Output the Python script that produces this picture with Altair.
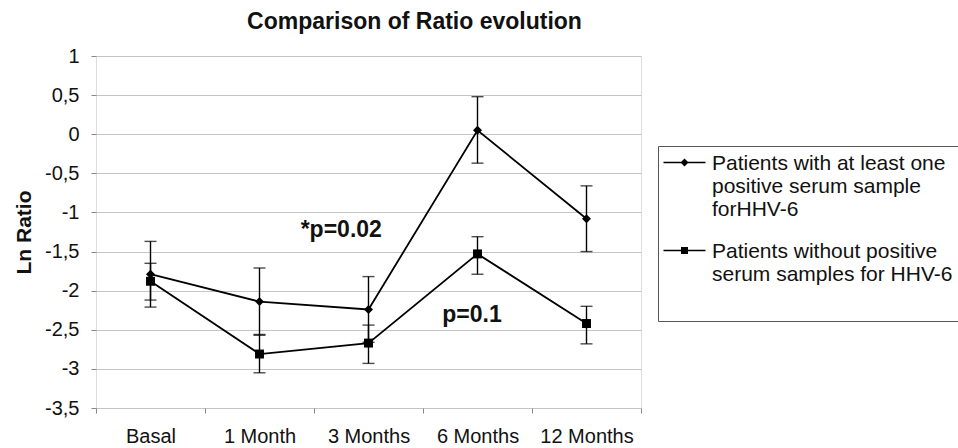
import json
import altair as alt
import pandas as pd

# ---------------- data ----------------
categories = ["Basal", "1 Month", "3 Months", "6 Months", "12 Months"]
series_names = [
    "Patients with at least one|positive serum sample|forHHV-6",
    "Patients without positive|serum samples for HHV-6| ",
]
s1_mean = [-1.79, -2.14, -2.24, 0.05, -1.08]
s1_upper = [-1.37, -1.71, -1.82, 0.48, -0.66]
s1_lower = [-2.21, -2.57, -2.66, -0.37, -1.50]
s2_mean = [-1.88, -2.81, -2.67, -1.53, -2.42]
s2_upper = [-1.65, -2.56, -2.44, -1.31, -2.20]
s2_lower = [-2.12, -3.05, -2.93, -1.79, -2.68]

ann_text = ["*p=0.02", "p=0.1"]
ann_x = [1.75, 2.95]
ann_y = [-1.32, -2.40]

y_ticks = [-3.5, -3, -2.5, -2, -1.5, -1, -0.5, 0, 0.5, 1]

# ---------------- tables ----------------
rows = []
for name, m, u, l in [(series_names[0], s1_mean, s1_upper, s1_lower),
                      (series_names[1], s2_mean, s2_upper, s2_lower)]:
    for i, cat in enumerate(categories):
        rows.append({"series": name, "cat": cat, "idx": i, "mean": m[i],
                     "upper": u[i], "lower": l[i]})
df = pd.DataFrame(rows)
ann = pd.DataFrame({"text": ann_text, "x": ann_x, "y": ann_y})

FONT = "Liberation Sans"
x_values = [i * 0.5 - 0.5 for i in range(2 * len(categories) + 1)]
label_expr = ("datum.value % 1 == 0 ? " + json.dumps(categories)
              + "[datum.value] : ''")

xscale = alt.Scale(domain=[-0.5, len(categories) - 0.5], nice=False, zero=False)
yscale = alt.Scale(domain=[-3.5, 1], nice=False, zero=False)

x_axis = alt.Axis(
    values=x_values, labelExpr=label_expr, grid=False, domain=False,
    tickSize=5, tickColor="#888",
    tickOpacity={"condition": {"test": "datum.value % 1 == 0", "value": 0}, "value": 1},
    labelFontSize=20, labelFont=FONT, labelColor="#111", labelPadding=13,
    labelOverlap=False, labelFlush=False, title=None,
)
y_axis = alt.Axis(
    values=y_ticks, labelExpr="replace(toString(datum.value), '.', ',')",
    grid=True, gridColor="#c4c4c4", gridWidth=1.2, domain=False,
    tickSize=5, tickColor="#888", labelOverlap=False, labelFlush=False,
    labelBound=False,
    labelFontSize=20, labelFont=FONT, labelColor="#111", labelPadding=12,
    title="Ln Ratio", titleFont=FONT, titleFontSize=21, titleFontWeight="bold",
    titleColor="#111", titlePadding=10,
)


def X(field):
    return alt.X(field, scale=xscale, axis=x_axis)


def Y(field):
    return alt.Y(field, scale=yscale, axis=y_axis)


base = alt.Chart(df)

bars = base.mark_rule(color="black", strokeWidth=1.4).encode(
    x=X("idx:Q"), y=Y("lower:Q"), y2="upper:Q", detail="series:N")
cap_hi = base.mark_tick(color="black", thickness=1.4, size=12, orient="horizontal").encode(
    x=X("idx:Q"), y=Y("upper:Q"), detail="series:N")
cap_lo = base.mark_tick(color="black", thickness=1.4, size=12, orient="horizontal").encode(
    x=X("idx:Q"), y=Y("lower:Q"), detail="series:N")
lines = base.mark_line(color="black", strokeWidth=1.8).encode(
    x=X("idx:Q"), y=Y("mean:Q"), detail="series:N")
points = base.mark_point(filled=True, color="black", opacity=1, size=80).encode(
    x=X("idx:Q"), y=Y("mean:Q"),
    shape=alt.Shape("series:N", scale=alt.Scale(domain=series_names, range=["diamond", "square"]),
                    legend=None))

# legend glyphs: unit = 2 px (symbolSize 16); a thin bar plus the marker
dy = -3.5
leg_paths = [
    f"M-9,{dy-0.4}H12V{dy+0.4}H-9Z"
    f"M1.5,{dy-2}L3.5,{dy}L1.5,{dy+2}L-0.5,{dy}Z",
    f"M-9,{dy-0.4}H12V{dy+0.4}H-9Z"
    f"M-0.25,{dy-1.75}H3.25V{dy+1.75}H-0.25Z",
]
legend_layer = base.mark_point(filled=True, color="black", opacity=0, size=16).encode(
    x=X("idx:Q"), y=Y("mean:Q"),
    shape=alt.Shape("series:N", scale=alt.Scale(domain=series_names, range=leg_paths),
                    legend=alt.Legend(
                        title=None, orient="none", legendX=562, legendY=90,
                        direction="vertical",
                        labelFont=FONT, labelFontSize=21, labelColor="#111",
                        labelLimit=500, labelExpr="split(datum.label, '|')",
                        labelBaseline="alphabetic", labelOffset=20,
                        symbolSize=16, symbolStrokeWidth=0,
                        symbolFillColor="black",
                        strokeColor="#555", fillColor="white",
                        padding=13, rowPadding=20,
                    )))

texts = alt.Chart(ann).mark_text(font=FONT, fontSize=23, fontWeight="bold",
                                 color="#111", baseline="alphabetic", align="center").encode(
    x=X("x:Q"), y=Y("y:Q"), text="text:N")

chart = alt.layer(bars, cap_hi, cap_lo, lines, points, legend_layer, texts).resolve_scale(
    shape="independent"
).properties(
    width=545, height=352,
    padding={"left": 96, "top": 56, "right": 317, "bottom": 40},
    autosize=alt.AutoSizeParams(type="none"),
    title=alt.Title("Comparison of Ratio evolution", font=FONT, fontSize=23,
                    fontWeight="bold", color="#111", anchor="middle",
                    baseline="alphabetic", offset=0, dx=46, dy=6),
).configure_view(stroke="#888", strokeWidth=1.3).configure(background="white")

chart.save("out.html", embed_options={"renderer": "svg", "actions": False})
